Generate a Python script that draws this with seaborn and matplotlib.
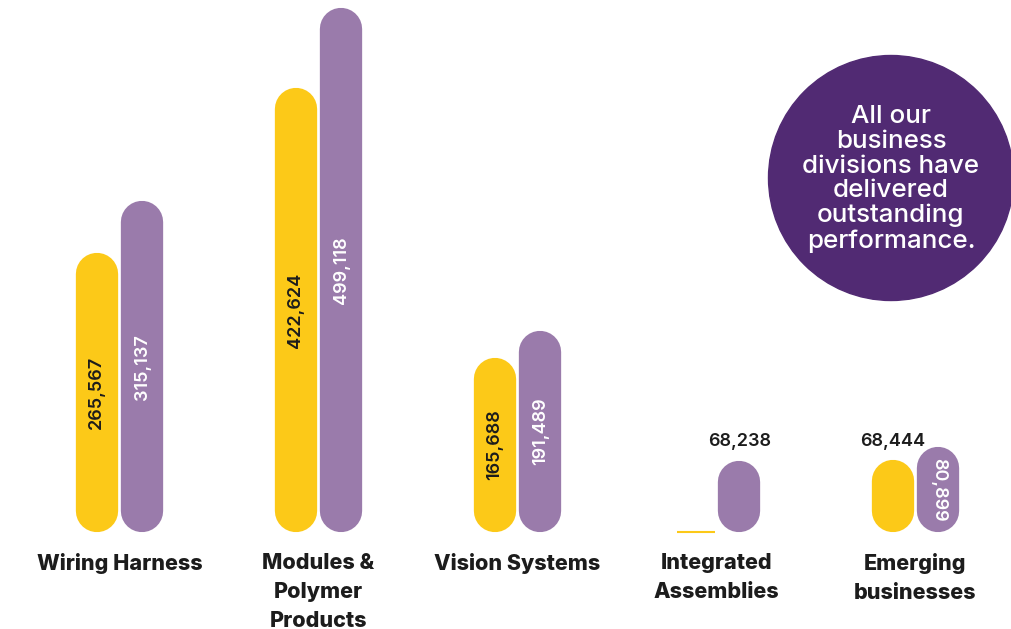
import seaborn as sns
import matplotlib.pyplot as plt
from matplotlib.patches import Ellipse
import pandas as pd

divisions = [
    "Wiring Harness",
    "Modules &\nPolymer\nProducts",
    "Vision Systems",
    "Integrated\nAssemblies",
    "Emerging\nbusinesses",
]
years = ["Previous year", "Current year"]
prev_values = [265567, 422624, 165688, 0, 68444]
curr_values = [315137, 499118, 191489, 68238, 80899]

YELLOW = "#FCC918"
PURPLE = "#9A7BAB"
DARK = "#512A73"
INK = "#1c1c1c"

# where each value label goes: inside the pill, above it, or none
label_mode = {
    (3, 0): None,
    (3, 1): "above",
    (4, 0): "above",
    (4, 1): "inside_flip",
}

df = pd.DataFrame({
    "division": divisions * 2,
    "year": [years[0]] * 5 + [years[1]] * 5,
    "revenue": prev_values + curr_values,
})

sns.set_style("white")
plt.rcParams["font.family"] = ["Inter", "DejaVu Sans"]

W, H = 1012, 629
fig = plt.figure(figsize=(W / 100, H / 100), dpi=100)
ax = fig.add_axes([0, 0, 1, 1])

sns.barplot(
    data=df,
    x="division",
    y="revenue",
    hue="year",
    palette=[YELLOW, PURPLE],
    saturation=1,
    width=0.457,
    gap=0.07,
    legend=False,
    errorbar=None,
    ax=ax,
)

# map figure pixels to data units
x0, step = 119.5, 199
xmin, xmax = (0 - x0) / step, (W - x0) / step
ypp = 952.5  # value units per pixel
base = 532
ax.set_xlim(xmin, xmax)
ax.set_ylim(-(H - base) * ypp, base * ypp)
ax.axis("off")

ppx = W / (xmax - xmin)

# replace the square bars with pill shapes
bars = sorted(ax.patches, key=lambda p: p.get_x())
for k, p in enumerate(bars):
    xl, w, h = p.get_x(), p.get_width(), p.get_height()
    color = p.get_facecolor()
    p.remove()
    xc = xl + w / 2
    gi, hi = k // 2, k % 2
    if h <= 0:
        ax.hlines(0, xl + 0.02, xl + w, color=color, lw=1.5)
        continue
    r = w * ppx / 2 * ypp  # radius in value units
    ax.plot([xc, xc], [r, h - r], color=color, lw=w * ppx * 0.72,
            solid_capstyle="round", zorder=2)

    mode = label_mode.get((gi, hi), "inside")
    txt = f"{int(h):,}"
    fc = INK if hi == 0 else "white"
    if mode == "inside":
        ax.text(xc, h / 2, txt, rotation=90, ha="center", va="center",
                color=fc, fontsize=13, fontweight="semibold", zorder=3)
    elif mode == "inside_flip":
        ax.text(xc, h / 2, txt, rotation=270, ha="center", va="center",
                color=fc, fontsize=13, fontweight="semibold", zorder=3)
    elif mode == "above":
        ax.text(xc, h + 10 * ypp, txt, ha="center", va="bottom",
                color=INK, fontsize=13, fontweight="semibold", zorder=3)

# category labels under the bars
for i, name in enumerate(divisions):
    ax.text(i, -(553 - base) * ypp, name, ha="center", va="top",
            fontsize=15.5, fontweight="heavy", color=INK, linespacing=1.55)

# callout bubble
cx, cy, rad = 891, 178, 122.5
fig.patches.append(Ellipse((cx / W, 1 - cy / H), 2 * rad / W, 2 * rad / H,
                           transform=fig.transFigure, color=DARK, zorder=0))
fig.text(cx / W, 1 - 179 / H,
         "All our\nbusiness\ndivisions have\ndelivered\noutstanding\nperformance.",
         ha="center", va="center", color="white", fontsize=18.7,
         fontweight="medium", linespacing=1.09)

fig.savefig("out.png", dpi=100)
